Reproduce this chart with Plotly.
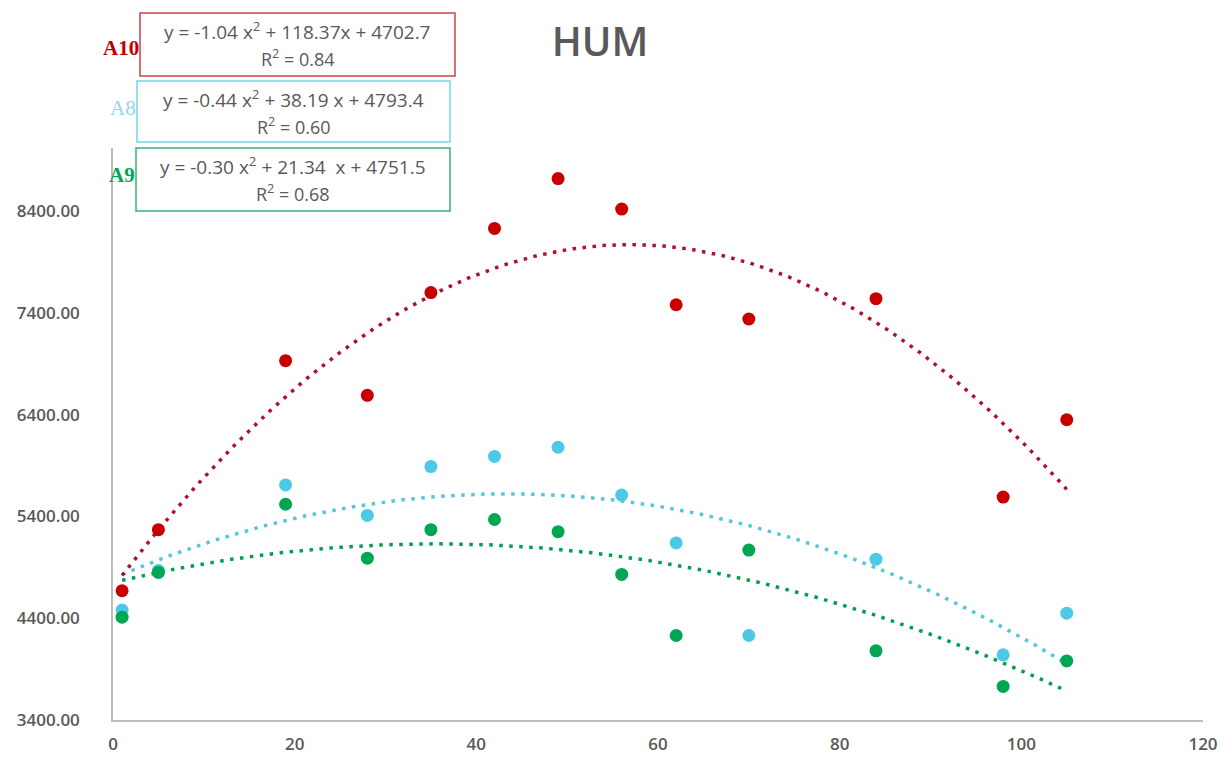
import numpy as np
import plotly.graph_objects as go

# ---- data ----
days = [1, 5, 19, 28, 35, 42, 49, 56, 62, 70, 84, 98, 105]
a10 = [4670, 5270, 6930, 6590, 7600, 8230, 8720, 8420, 7480, 7340, 7540, 5590, 6350]
a8 = [4480, 4870, 5710, 5410, 5890, 5990, 6080, 5610, 5140, 4230, 4980, 4040, 4450]
a9 = [4410, 4850, 5520, 4990, 5270, 5370, 5250, 4830, 4230, 5070, 4080, 3730, 3980]

series_names = ["A10", "A8", "A9"]
coefs = {  # displayed trendline coefficients (x^2, x, c)
    "A10": [-1.04, 118.37, 4702.7],
    "A8": [-0.44, 38.19, 4793.4],
    "A9": [-0.30, 21.34, 4751.5],
}
r2 = {"A10": "0.84", "A8": "0.60", "A9": "0.68"}
eq_text = {
    "A10": "y = -1.04 x<sup>2</sup> + 118.37x + 4702.7",
    "A8": "y = -0.44 x<sup>2</sup> + 38.19 x + 4793.4",
    "A9": "y = -0.30 x<sup>2</sup> + 21.34  x + 4751.5",
}
y_ticks = [3400, 4400, 5400, 6400, 7400, 8400]
x_ticks = [0, 20, 40, 60, 80, 100, 120]

marker_col = {"A10": "#C80000", "A8": "#4CC9E6", "A9": "#00A651"}
trend_col = {"A10": "#B0102A", "A8": "#55C6DE", "A9": "#00A04E"}
box_col = {"A10": "#D04048", "A8": "#6FD8E6", "A9": "#3AAE74"}
label_col = {"A10": "#C00000", "A8": "#8FD6EE", "A9": "#00A650"}
values = {"A10": a10, "A8": a8, "A9": a9}

fig = go.Figure()

# trend lines
xx = np.linspace(days[0], days[-1], 200)
for name in ["A9", "A8", "A10"]:
    yy = np.polyval(coefs[name], xx)
    fig.add_trace(go.Scatter(x=xx, y=yy, mode="lines",
                             line=dict(color=trend_col[name], width=3.5, dash="3.5px,6.5px"),
                             hoverinfo="skip", showlegend=False))
# markers
for name in ["A8", "A9", "A10"]:
    fig.add_trace(go.Scatter(x=days, y=values[name], mode="markers", name=name,
                             marker=dict(color=marker_col[name], size=13, line=dict(width=0)),
                             showlegend=False))

L, R, T, B = 113, 18, 148, 37
W, H = 1221, 757
pw, ph = W - L - R, H - T - B

def px(X):
    return (X - L) / pw

def py(Y):
    return (H - B - Y) / ph

boxes = {
    "A10": (140, 455, 13, 76, 48),
    "A8": (137, 450, 81, 142, 108),
    "A9": (136, 450, 148, 211, 175),
}
shapes = []
annotations = []
for name in series_names:
    x0, x1, y0, y1, ly = boxes[name]
    shapes.append(dict(type="rect", xref="paper", yref="paper",
                       x0=px(x0), x1=px(x1), y0=py(y1), y1=py(y0),
                       line=dict(color=box_col[name], width=1.5), fillcolor="white", layer="above"))
    cx = px((x0 + x1) / 2)
    annotations.append(dict(xref="paper", yref="paper", x=cx, y=py(y0 + 18),
                            text=eq_text[name], showarrow=False, xanchor="center", yanchor="middle",
                            font=dict(family="Open Sans", size=19, color="#595959")))
    annotations.append(dict(xref="paper", yref="paper", x=cx, y=py(y0 + 45),
                            text="R<sup>2</sup> = " + r2[name], showarrow=False, xanchor="center",
                            yanchor="middle",
                            font=dict(family="Open Sans", size=18, color="#595959")))
    annotations.append(dict(xref="paper", yref="paper", x=px(x0 + 1), y=py(ly),
                            text="<b>" + name + "</b>" if name != "A8" else name,
                            showarrow=False, xanchor="right", yanchor="middle",
                            font=dict(family="Liberation Serif", size=21, color=label_col[name])))

fig.update_layout(
    width=W, height=H,
    margin=dict(l=L, r=R, t=T, b=B, pad=0, autoexpand=False),
    paper_bgcolor="white", plot_bgcolor="white",
    title=dict(text="HUM", x=(600) / W, xanchor="center", y=1 - 42 / H, yanchor="middle",
               font=dict(family="Open Sans", size=40, color="#595959", weight=600)),
    shapes=shapes, annotations=annotations,
    xaxis=dict(range=[0, 120], tickvals=x_ticks, showgrid=False, zeroline=False,
               showline=True, linecolor="#BFBFBF", linewidth=1.5, ticks="",
               ticklabelstandoff=8, automargin=False,
               tickfont=dict(family="Open Sans", size=17, color="#595959", weight=600)),
    yaxis=dict(range=[3400, 9020], tickvals=y_ticks, tickformat=".2f", showgrid=False,
               zeroline=False, showline=True, linecolor="#BFBFBF", linewidth=1.5, ticks="",
               ticklabelstandoff=28, automargin=False,
               tickfont=dict(family="Open Sans", size=17, color="#595959", weight=600)),
)

fig.write_html("out.html")
